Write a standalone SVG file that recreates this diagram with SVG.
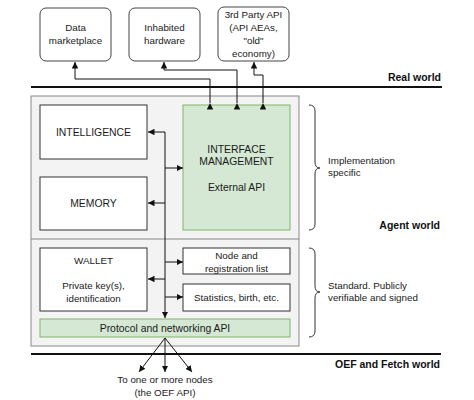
<svg xmlns="http://www.w3.org/2000/svg" width="474" height="400" viewBox="0 0 474 400">
<defs>
<marker id="ah" viewBox="0 0 10 10" refX="10" refY="5" markerWidth="6.5" markerHeight="6.5" markerUnits="userSpaceOnUse" orient="auto">
<path d="M0,0 L10,5 L0,10 z" fill="#111"/>
</marker>
<style>
text{font-family:"Liberation Sans",Arial,sans-serif;font-size:9.8px;fill:#1a1a1a;text-anchor:middle}
.u{font-size:10.4px}
.b{font-weight:bold;font-size:10.5px;text-anchor:end;fill:#111}
.l{text-anchor:start}
.ext{fill:#fff;stroke:#444;stroke-width:1}
.box{fill:#fff;stroke:#333;stroke-width:1}
.grn{fill:#d5e8d4;stroke:#82b366;stroke-width:1}
.c{fill:none;stroke:#111;stroke-width:1}
.brace{fill:none;stroke:#333;stroke-width:1}
</style>
</defs>
<rect width="474" height="400" fill="#fff"/>

<g id="agent-frame">
<rect x="31" y="96" width="268" height="250" fill="#f3f3f3" stroke="#888" stroke-width="1"/>
<line x1="31" y1="239" x2="299" y2="239" stroke="#888" stroke-width="1"/>
</g>

<g id="worlds">
<line x1="31" y1="87" x2="442" y2="87" stroke="#111" stroke-width="1.8"/>
<text class="b" x="441" y="81">Real world</text>
<text class="b" x="440" y="229">Agent world</text>
<line x1="31" y1="354" x2="441" y2="354" stroke="#111" stroke-width="1.8"/>
<text class="b" x="440" y="368">OEF and Fetch world</text>
</g>

<g id="data-marketplace">
<rect class="ext" x="40" y="8" width="71" height="53" rx="6"/>
<text x="75.5" y="31">Data</text>
<text x="75.5" y="44">marketplace</text>
</g>
<g id="inhabited-hardware">
<rect class="ext" x="129" y="8" width="71" height="53" rx="6"/>
<text x="164.5" y="31">Inhabited</text>
<text x="164.5" y="44">hardware</text>
</g>
<g id="third-party-api">
<rect class="ext" x="218" y="7" width="71" height="54" rx="6"/>
<text x="253.5" y="18">3rd Party API</text>
<text x="253.5" y="31">(API AEAs,</text>
<text x="253.5" y="44">"old"</text>
<text x="253.5" y="57">economy)</text>
</g>

<g id="intelligence">
<rect class="box" x="40" y="105" width="107" height="54"/>
<text class="u" x="93.5" y="136">INTELLIGENCE</text>
</g>
<g id="memory">
<rect class="box" x="40" y="177" width="107" height="53"/>
<text class="u" x="93.5" y="207">MEMORY</text>
</g>
<g id="interface-management">
<rect class="grn" x="183" y="105" width="107" height="125"/>
<text class="u" x="236.5" y="153">INTERFACE</text>
<text class="u" x="236.5" y="165">MANAGEMENT</text>
<text class="u" x="236.5" y="191">External API</text>
</g>
<g id="wallet">
<rect class="box" x="40" y="248" width="107" height="63"/>
<text x="93.5" y="264">WALLET</text>
<text x="93.5" y="289">Private key(s),</text>
<text x="93.5" y="302">identification</text>
</g>
<g id="node-registration">
<rect class="box" x="183" y="248" width="107" height="26"/>
<text x="236.5" y="259">Node and</text>
<text x="236.5" y="272">registration list</text>
</g>
<g id="statistics">
<rect class="box" x="183" y="284" width="107" height="27"/>
<text x="236.5" y="301">Statistics, birth, etc.</text>
</g>
<g id="protocol-api">
<rect class="grn" x="40" y="319" width="250" height="18"/>
<text x="165" y="332" style="font-size:10.4px">Protocol and networking API</text>
</g>

<g id="annotations">
<path class="brace" d="M309,105 Q315,105 315,111 L315,162 Q315,168 320,168 Q315,168 315,174 L315,224 Q315,230 309,230"/>
<text class="l" x="328" y="164">Implementation</text>
<text class="l" x="328" y="176">specific</text>
<path class="brace" d="M309,248 Q315,248 315,254 L315,286 Q315,292 320,292 Q315,292 315,298 L315,331 Q315,337 309,337"/>
<text class="l" x="328" y="289">Standard. Publicly</text>
<text class="l" x="328" y="301">verifiable and signed</text>
<text x="165" y="383">To one or more nodes</text>
<text x="165" y="396">(the OEF API)</text>
</g>

<g id="connectors">
<path class="c" d="M210,103 L210,79 L75,79 L75,62" marker-start="url(#ah)" marker-end="url(#ah)"/>
<path class="c" d="M237,103 L237,70 L164,70 L164,62" marker-start="url(#ah)" marker-end="url(#ah)"/>
<path class="c" d="M263,103 L263,75 L254,75 L254,62" marker-start="url(#ah)" marker-end="url(#ah)"/>
<path class="c" d="M165,132 L165,318" marker-end="url(#ah)"/>
<path class="c" d="M165,132 L148,132" marker-end="url(#ah)"/>
<path class="c" d="M165,203 L148,203" marker-end="url(#ah)"/>
<path class="c" d="M165,168 L183,168" marker-end="url(#ah)"/>
<path class="c" d="M165,262 L183,262" marker-end="url(#ah)"/>
<path class="c" d="M165,279 L148,279" marker-end="url(#ah)"/>
<path class="c" d="M165,297 L183,297" marker-end="url(#ah)"/>
<path class="c" d="M165,338 L139,372" marker-end="url(#ah)"/>
<path class="c" d="M165,338 L165,372" marker-end="url(#ah)"/>
<path class="c" d="M165,338 L192,372" marker-end="url(#ah)"/>
</g>
</svg>
